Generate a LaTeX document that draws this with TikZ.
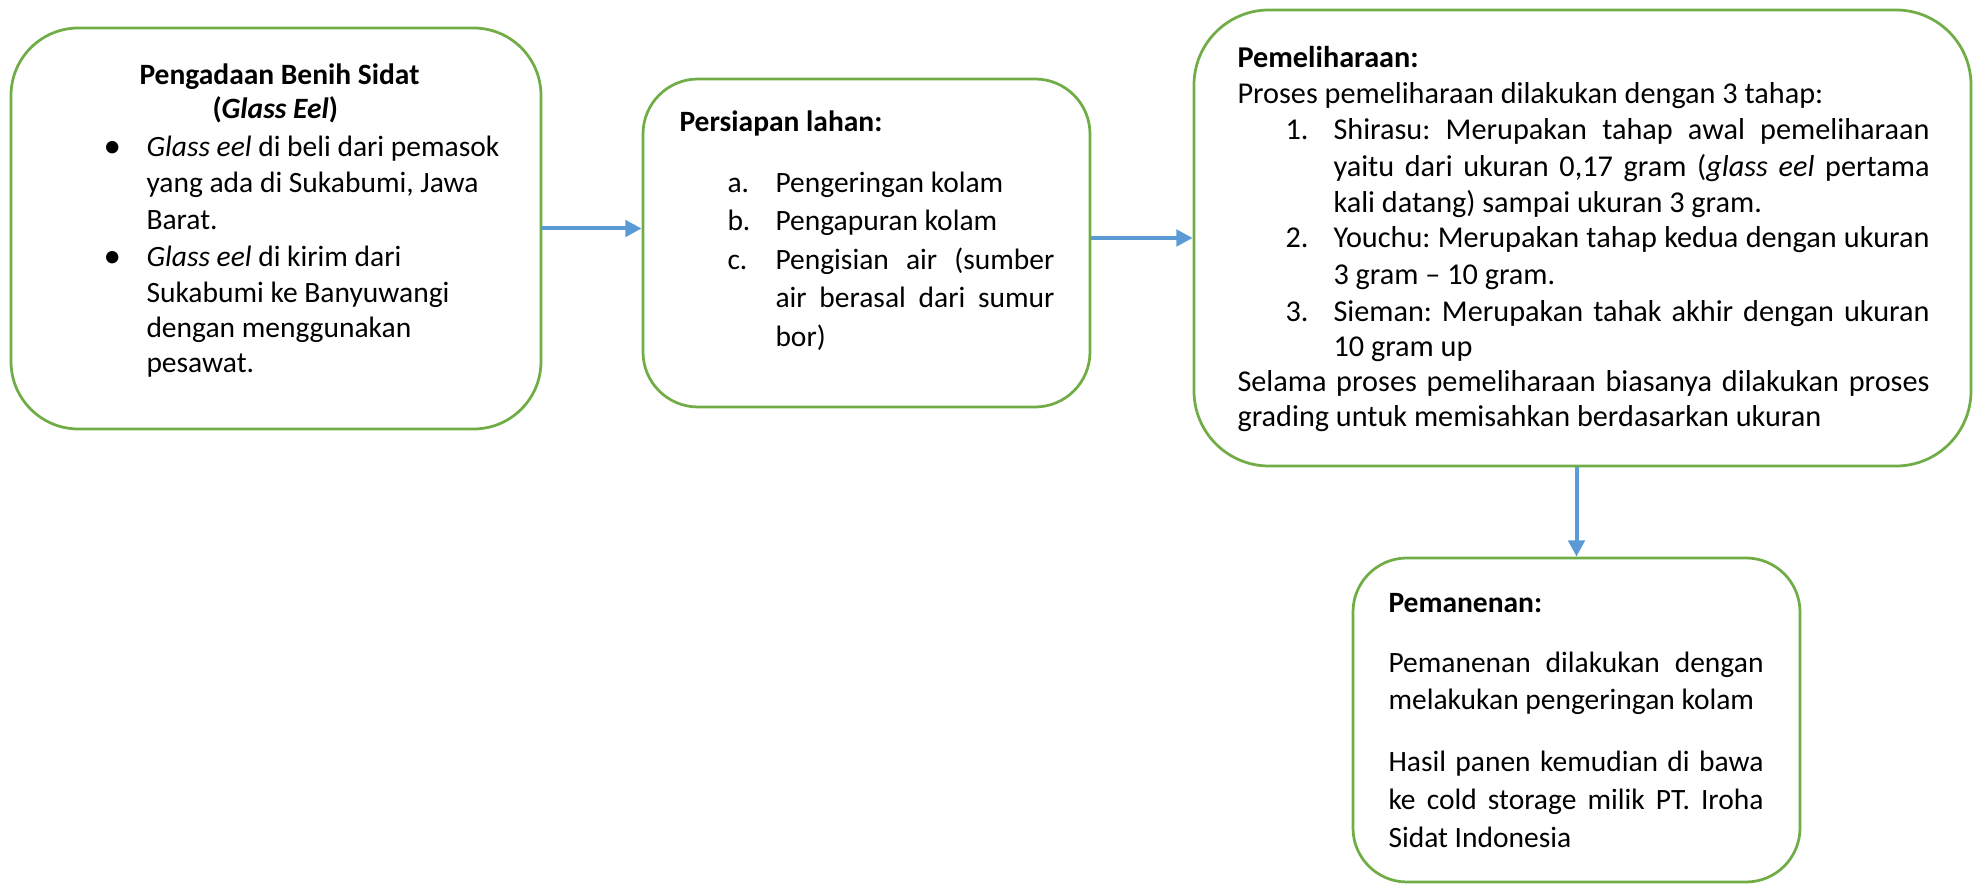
\documentclass[tikz,border=0pt]{standalone}
\usepackage{fontspec}
\setmainfont{Carlito}
\frenchspacing
\usetikzlibrary{fit,arrows.meta}
\definecolor{boxgreen}{HTML}{70AD47}
\definecolor{arrowblue}{HTML}{5B9BD5}
\tikzset{
  box/.style={draw=boxgreen, line width=1.1pt, inner sep=0pt, fill=white},
  arr/.style={draw=arrowblue, line width=1.6pt, -{Triangle[length=6.5pt,width=6.5pt]}},
  txt/.style={inner sep=0pt, anchor=base west, font=\fontsize{11.8}{14}\selectfont},
  txtb/.style={inner sep=0pt, anchor=base west, font=\fontsize{12.1}{14}\selectfont},
  bul/.style={inner sep=0pt, anchor=base west, font=\fontsize{14}{14}\selectfont},
}
\begin{document}
\begin{tikzpicture}[x=0.4pt,y=-0.4pt]
\useasboundingbox (0,0) rectangle (1974,884);
% boxes
\node[box, rounded corners=27pt, fit={(11,28) (541,429)}] (b1) {};
\node[box, rounded corners=22pt, fit={(643,79) (1090,407)}] (b2) {};
\node[box, rounded corners=30pt, fit={(1194,10) (1971,466)}] (b3) {};
\node[box, rounded corners=21.6pt, fit={(1353,558) (1800,882)}] (b4) {};
% box 1 text
\node[txt] (t1a) at (139,85) {\textbf{Pengadaan Benih Sidat}};
\node[txt] (t1b) at (212,119) {\textbf{(\textit{Glass Eel})}};
\node[bul] (t1c) at (103,158) {\textbullet};
\node[txt] (t1d) at (146,157) {\textit{Glass eel} di beli dari pemasok};
\node[txt] (t1e) at (146,193) {yang ada di Sukabumi, Jawa};
\node[txt] (t1f) at (146,230) {Barat.};
\node[bul] (t1g) at (103,268) {\textbullet};
\node[txt] (t1h) at (146,267) {\textit{Glass eel} di kirim dari};
\node[txt] (t1i) at (146,303) {Sukabumi ke Banyuwangi};
\node[txt] (t1j) at (146,338) {dengan menggunakan};
\node[txt] (t1k) at (146,373) {pesawat.};
% box 2 text
\node[txt] (t2a) at (679,132) {\textbf{Persiapan lahan:}};
\node[txt] (t2b) at (727,193) {a.};
\node[txt] (t2c) at (775,193) {Pengeringan kolam};
\node[txt] (t2d) at (727,231) {b.};
\node[txt] (t2e) at (775,231) {Pengapuran kolam};
\node[txt] (t2f) at (727,270) {c.};
\node[txt] (t2g) at (775,270) {\makebox[111.6pt][s]{Pengisian air (sumber}};
\node[txt] (t2h) at (775,308) {\makebox[111.6pt][s]{air berasal dari sumur}};
\node[txt] (t2i) at (775,347) {bor)};
% box 3 text
\node[txtb] (t3a) at (1237,68) {\textbf{Pemeliharaan:}};
\node[txtb] (t3b) at (1237,104) {Proses pemeliharaan dilakukan dengan 3 tahap:};
\node[txtb] (t3c) at (1285,140) {1.};
\node[txtb] (t3d) at (1333,140) {\makebox[238.4pt][s]{Shirasu: Merupakan tahap awal pemeliharaan}};
\node[txtb] (t3e) at (1333,177) {\makebox[238.4pt][s]{yaitu dari ukuran 0,17 gram (\textit{glass eel} pertama}};
\node[txtb] (t3f) at (1333,213) {kali datang) sampai ukuran 3 gram.};
\node[txtb] (t3g) at (1285,248) {2.};
\node[txtb] (t3h) at (1333,248) {\makebox[238.4pt][s]{Youchu: Merupakan tahap kedua dengan ukuran}};
\node[txtb] (t3i) at (1333,285) {3 gram -- 10 gram.};
\node[txtb] (t3j) at (1285,322) {3.};
\node[txtb] (t3k) at (1333,322) {\makebox[238.4pt][s]{Sieman: Merupakan tahak akhir dengan ukuran}};
\node[txtb] (t3l) at (1333,357) {10 gram up};
\node[txtb] (t3m) at (1237,392) {\makebox[276.8pt][s]{Selama proses pemeliharaan biasanya dilakukan proses}};
\node[txtb] (t3n) at (1237,427) {grading untuk memisahkan berdasarkan ukuran};
% box 4 text
\node[txt] (t4a) at (1388,613) {\textbf{Pemanenan:}};
\node[txt] (t4b) at (1388,673) {\makebox[150pt][s]{Pemanenan dilakukan dengan}};
\node[txt] (t4c) at (1388,710) {melakukan pengeringan kolam};
\node[txt] (t4d) at (1388,772) {\makebox[150pt][s]{Hasil panen kemudian di bawa}};
\node[txt] (t4e) at (1388,810) {\makebox[150pt][s]{ke cold storage milik PT. Iroha}};
\node[txt] (t4f) at (1388,848) {Sidat Indonesia};
% arrows
\draw[arr] (b1.east) -- (b1.east -| b2.west);
\draw[arr] (b2.east |- b3.west) -- (b3.west);
\draw[arr] (b3.south -| b4.north) -- (b4.north);
\end{tikzpicture}
\end{document}
